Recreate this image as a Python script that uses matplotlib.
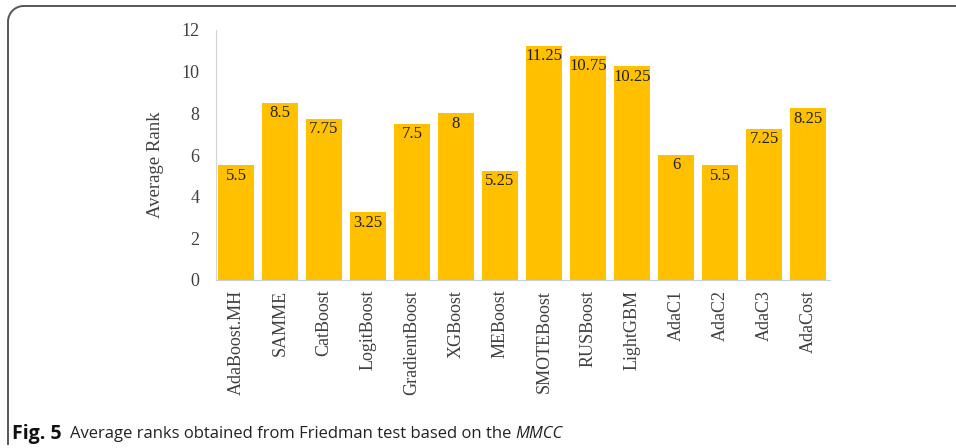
import matplotlib.pyplot as plt
import matplotlib.patches as mpatches

# Average Friedman ranks per algorithm (MMCC)
algorithms = ['AdaBoost.MH', 'SAMME', 'CatBoost', 'LogitBoost', 'GradientBoost',
              'XGBoost', 'MEBoost', 'SMOTEBoost', 'RUSBoost', 'LightGBM',
              'AdaC1', 'AdaC2', 'AdaC3', 'AdaCost']
avg_rank = [5.5, 8.5, 7.75, 3.25, 7.5, 8, 5.25, 11.25, 10.75, 10.25, 6, 5.5, 7.25, 8.25]
rank_labels = ['5.5', '8.5', '7.75', '3.25', '7.5', '8', '5.25', '11.25',
               '10.75', '10.25', '6', '5.5', '7.25', '8.25']

BAR = '#FFC000'
serif = 'Liberation Serif'

fig = plt.figure(figsize=(9.56, 4.48), dpi=100)
ax = fig.add_axes([216 / 956, 1 - 280 / 448, (830 - 216) / 956, 250 / 448])

x = range(len(algorithms))
ax.bar(x, avg_rank, width=0.83, color=BAR)
ax.set_xlim(-0.455, len(algorithms) - 0.5)
ax.set_ylim(0, 12)
ax.set_yticks(range(0, 13, 2))
ax.set_xticks(list(x))
ax.set_xticklabels(algorithms, rotation=90, fontfamily=serif, fontsize=13, color='#404040')
for lab in ax.get_yticklabels():
    lab.set_fontfamily(serif)
    lab.set_fontsize(13)
    lab.set_color('#404040')
ax.tick_params(length=0, pad=7)
ax.tick_params(axis='y', pad=12)

for s in ['top', 'right']:
    ax.spines[s].set_visible(False)
ax.spines['left'].set_color('#d4d4d4')
ax.spines['bottom'].set_color('#c8d0dc')

ax.set_ylabel('Average Rank', fontfamily=serif, fontsize=13.5, color='#404040')
ax.yaxis.set_label_coords(-0.085, 0.46)

# value labels just inside the bar tops
for i, (v, t) in enumerate(zip(avg_rank, rank_labels)):
    ax.annotate(t, (i, v), xytext=(0, -7.5), textcoords='offset points',
                ha='center', va='center', fontfamily=serif, fontsize=12, color='#222222')

# frame: top and left edges with a rounded corner
r = 0.035
rx = r * 448 / 956
x0, y0 = 8 / 956, 1 - 6 / 448
fig.add_artist(plt.Line2D([x0 + rx, 955 / 956], [y0, y0],
                          transform=fig.transFigure, color='#555555', lw=1.4))
fig.add_artist(plt.Line2D([x0, x0], [y0 - r, 4 / 448],
                          transform=fig.transFigure, color='#555555', lw=1.4))
fig.add_artist(mpatches.Arc((x0 + rx, y0 - r), 2 * rx, 2 * r, theta1=90, theta2=180,
                            transform=fig.transFigure, color='#555555', lw=1.4))

cy = 1 - 434 / 448
fig.text(12 / 956, cy, 'Fig. 5', fontfamily='Open Sans', fontweight='bold',
         fontsize=14, va='center', ha='left', color='#111111')
cap = fig.text(70 / 956, cy, 'Average ranks obtained from Friedman test based on the ',
               fontfamily='Open Sans', fontsize=12, va='center', ha='left', color='#222222')
fig.canvas.draw()
bb = cap.get_window_extent()
fig.text(bb.x1 / fig.bbox.width, cy, 'MMCC', fontfamily='Open Sans',
         fontstyle='italic', fontsize=12, va='center', ha='left', color='#222222')

fig.savefig('out.png', dpi=100)
